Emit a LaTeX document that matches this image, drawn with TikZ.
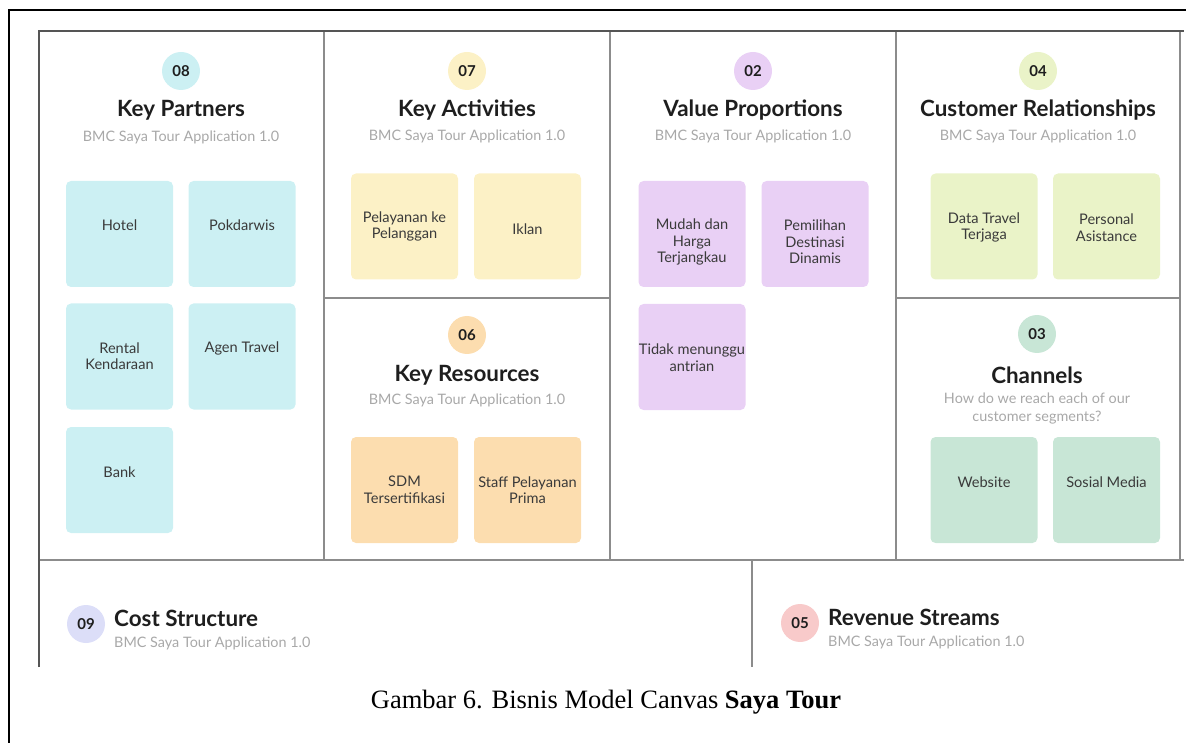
\documentclass[tikz,border=0pt]{standalone}
\usepackage{fontspec}
\setmainfont{Liberation Serif}
\newfontfamily\canvasfont{Lato}

\definecolor{kpfill}{HTML}{CCF0F3}
\definecolor{kafill}{HTML}{FCF1C6}
\definecolor{krfill}{HTML}{FCDDAF}
\definecolor{vpfill}{HTML}{E9D0F5}
\definecolor{crfill}{HTML}{EAF3C8}
\definecolor{chfill}{HTML}{C8E6D6}
\definecolor{csfill}{HTML}{DCDEF8}
\definecolor{rsfill}{HTML}{F8CACA}
\definecolor{gridline}{HTML}{8C8C8C}
\definecolor{borderink}{HTML}{555555}
\definecolor{subgray}{HTML}{A8A8A8}
\definecolor{titleink}{HTML}{1E1E1E}
\definecolor{noteink}{HTML}{3A3A3A}

\tikzset{
  card/.style={rounded corners=5pt, minimum width=107pt, minimum height=106pt, inner sep=0pt, draw=none},
  cardtext/.style={font=\canvasfont\fontsize{14.6}{16.5}\selectfont, text=noteink, align=center, inner sep=0pt},
  badge/.style={circle, minimum size=38pt, inner sep=0pt, draw=none,
                font=\canvasfont\bfseries\fontsize{15}{15}\selectfont, text=titleink},
  blocktitle/.style={font=\canvasfont\bfseries\fontsize{22.4}{25}\selectfont, text=titleink, inner sep=0pt},
  blocksub/.style={font=\canvasfont\fontsize{14.4}{18}\selectfont, text=subgray, inner sep=0pt, align=center},
  divider/.style={draw=gridline, line width=1.3pt},
  frameedge/.style={draw=borderink, line width=2.2pt}
}

\begin{document}
\begin{tikzpicture}[x=1pt, y=-1pt]
\useasboundingbox (0,0) rectangle (1200,743);

% outer page frame
\draw[black, line width=1.5pt] (9,743) -- (9,10) -- (1186,10);

% canvas grid
\draw[divider] (324,31) -- (324,560);
\draw[divider] (610,31) -- (610,560);
\draw[divider] (896,31) -- (896,560);
\draw[divider] (1180,31) -- (1180,560);
\draw[divider] (324,298) -- (610,298);
\draw[divider] (896,298) -- (1180,298);
\draw[divider] (39,560) -- (1184,560);
\draw[divider] (752,560) -- (752,667);
\draw[frameedge] (39,667) -- (39,31) -- (1184,31);

% ---- Key Partners ----
\node[badge, fill=kpfill] (kpb) at (181,71) {08};
\node[blocktitle] (kpt) at (181,110) {Key Partners};
\node[blocksub] (kps) at (181,137) {BMC Saya Tour Application 1.0};
\node[card, fill=kpfill] (kp1) at (119.5,234) {};
\node[card, fill=kpfill] (kp2) at (242,234) {};
\node[card, fill=kpfill] (kp3) at (119.5,356.5) {};
\node[card, fill=kpfill] (kp4) at (242,356.5) {};
\node[card, fill=kpfill] (kp5) at (119.5,480) {};
\node[cardtext] (kp1t) at (119.5,225) {Hotel};
\node[cardtext] (kp2t) at (242,225) {Pokdarwis};
\node[cardtext] (kp3t) at (119.5,356) {Rental\\Kendaraan};
\node[cardtext] (kp4t) at (242,348) {Agen Travel};
\node[cardtext] (kp5t) at (119.5,472) {Bank};

% ---- Key Activities ----
\node[badge, fill=kafill] (kab) at (467,71) {07};
\node[blocktitle] (kat) at (467,110) {Key Activities};
\node[blocksub] (kas) at (467,136) {BMC Saya Tour Application 1.0};
\node[card, fill=kafill] (ka1) at (404.5,226.5) {};
\node[card, fill=kafill] (ka2) at (527.5,226.5) {};
\node[cardtext] (ka1t) at (404.5,226.5) {Pelayanan ke\\Pelanggan};
\node[cardtext] (ka2t) at (527.5,229) {Iklan};

% ---- Key Resources ----
\node[badge, fill=krfill] (krb) at (467,335) {06};
\node[blocktitle] (krt) at (467,375) {Key Resources};
\node[blocksub] (krs) at (467,400) {BMC Saya Tour Application 1.0};
\node[card, fill=krfill] (kr1) at (404.5,490) {};
\node[card, fill=krfill] (kr2) at (527.5,490) {};
\node[cardtext] (kr1t) at (404.5,490) {SDM\\Tersertifikasi};
\node[cardtext] (kr2t) at (527.5,490) {Staff Pelayanan\\Prima};

% ---- Value Proportions ----
\node[badge, fill=vpfill] (vpb) at (753,71) {02};
\node[blocktitle] (vpt) at (753,110) {Value Proportions};
\node[blocksub] (vps) at (753,136) {BMC Saya Tour Application 1.0};
\node[card, fill=vpfill] (vp1) at (692,234) {};
\node[card, fill=vpfill] (vp2) at (815,234) {};
\node[card, fill=vpfill] (vp3) at (692,357) {};
\node[cardtext] (vp1t) at (692,242) {Mudah dan\\Harga\\Terjangkau};
\node[cardtext] (vp2t) at (815,242) {Pemilihan\\Destinasi\\Dinamis};
\node[cardtext] (vp3t) at (692,357.5) {Tidak menunggu\\antrian};

% ---- Customer Relationships ----
\node[badge, fill=crfill] (crb) at (1038,71) {04};
\node[blocktitle] (crt) at (1038,110) {Customer Relationships};
\node[blocksub] (crs) at (1038,136) {BMC Saya Tour Application 1.0};
\node[card, fill=crfill] (cr1) at (984,226.5) {};
\node[card, fill=crfill] (cr2) at (1106.5,226.5) {};
\node[cardtext] (cr1t) at (984,227.5) {Data Travel\\Terjaga};
\node[cardtext] (cr2t) at (1106.5,227.5) {Personal\\Asistance};

% ---- Channels ----
\node[badge, fill=chfill] (chb) at (1037,334) {03};
\node[blocktitle] (cht) at (1037,375) {Channels};
\node[blocksub] (chs) at (1037,409) {How do we reach each of our\\customer segments?};
\node[card, fill=chfill] (ch1) at (984,490) {};
\node[card, fill=chfill] (ch2) at (1106.5,490) {};
\node[cardtext] (ch1t) at (984,482) {Website};
\node[cardtext] (ch2t) at (1106.5,482) {Sosial Media};

% ---- Cost Structure ----
\node[badge, fill=csfill] (csb) at (86,624) {09};
\node[blocktitle, anchor=west] (cst) at (114,618) {Cost Structure};
\node[blocksub, anchor=west] (css) at (114,643) {BMC Saya Tour Application 1.0};

% ---- Revenue Streams ----
\node[badge, fill=rsfill] (rsb) at (800,623) {05};
\node[blocktitle, anchor=west] (rst) at (828,617) {Revenue Streams};
\node[blocksub, anchor=west] (rss) at (828,642) {BMC Saya Tour Application 1.0};

% caption
\node[font=\fontsize{26.5}{30}\selectfont, inner sep=0pt] (cap) at (606,702)
  {Gambar 6. Bisnis Model Canvas \textbf{Saya Tour}};
\end{tikzpicture}
\end{document}
